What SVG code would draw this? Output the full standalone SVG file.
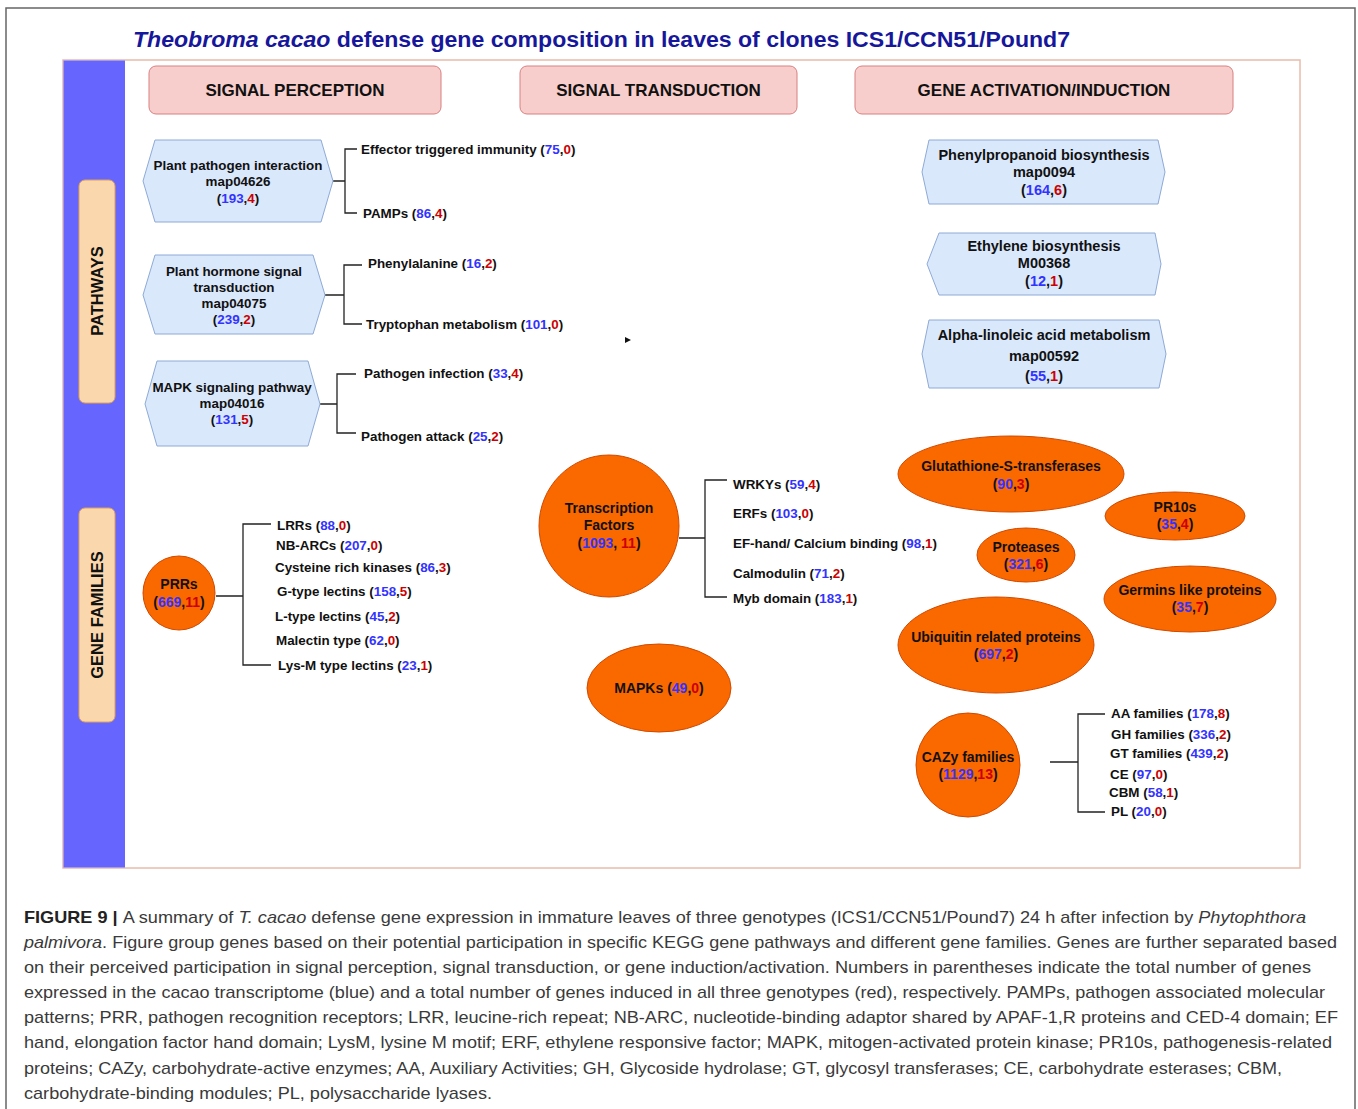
<svg xmlns="http://www.w3.org/2000/svg" width="1358" height="1109" viewBox="0 0 1358 1109">
<defs>
<style>
text{font-family:"Liberation Sans",Arial,sans-serif;}
.t{font-size:13.4px;font-weight:bold;fill:#111;}
.tm{font-size:13.4px;font-weight:bold;fill:#111;text-anchor:middle;}
.tr{font-size:14.5px;font-weight:bold;fill:#111;text-anchor:middle;}
.to{font-size:14px;font-weight:bold;fill:#111;text-anchor:middle;}
.hd{font-size:17px;font-weight:bold;fill:#111;text-anchor:middle;}
.side{font-size:16.5px;font-weight:bold;fill:#111;text-anchor:middle;}
.b{fill:#3333ff;}
.r{fill:#cc0000;}
.hdr{fill:#f8cecc;stroke:#d98080;stroke-width:1;}
.peach{fill:#fad7ac;stroke:#e0a050;stroke-width:1;}
.hex{fill:#dae8fc;stroke:#8eaad6;stroke-width:1;}
.ora{fill:#fa6800;stroke:#d04a00;stroke-width:1;}
.con{fill:none;stroke:#222;stroke-width:1.3;}
.cap{font-size:17px;fill:#3a3a3a;}
</style>
</defs>
<rect x="0" y="0" width="1358" height="1109" fill="#ffffff"/>
<path d="M6,1109 V8 H1355 V1109" fill="none" stroke="#666" stroke-width="1.5"/>
<text x="133" y="47" font-size="22" font-weight="bold" fill="#17179b" textLength="937" lengthAdjust="spacingAndGlyphs"><tspan font-style="italic">Theobroma cacao</tspan> defense gene composition in leaves of clones ICS1/CCN51/Pound7</text>
<rect x="63" y="60" width="1237" height="808" fill="#ffffff" stroke="#e8bcaa" stroke-width="1.5"/>
<rect x="63.5" y="60.5" width="61.5" height="807" fill="#6666ff"/>

<g id="hdr-perception"><rect class="hdr" x="149" y="66" width="292" height="48" rx="7"/><text class="hd" x="295" y="96">SIGNAL PERCEPTION</text></g>
<g id="hdr-transduction"><rect class="hdr" x="520" y="66" width="277" height="48" rx="7"/><text class="hd" x="658.5" y="96">SIGNAL TRANSDUCTION</text></g>
<g id="hdr-activation"><rect class="hdr" x="855" y="66" width="378" height="48" rx="7"/><text class="hd" x="1044" y="96">GENE ACTIVATION/INDUCTION</text></g>

<g id="lbl-pathways"><rect class="peach" x="79" y="180" width="36" height="223" rx="6"/><text class="side" transform="translate(97,291) rotate(-90)" y="6">PATHWAYS</text></g>
<g id="lbl-genefamilies"><rect class="peach" x="79" y="508" width="36" height="214" rx="6"/><text class="side" transform="translate(97,615) rotate(-90)" y="6">GENE FAMILIES</text></g>

<g id="connectors">
<path class="con" d="M333,181 H345 M357,149 H345 V213 H357"/>
<path class="con" d="M325,295 H344 M362,265 H344 V324 H362"/>
<path class="con" d="M320,404 H337 M356,374 H337 V433 H356"/>
<path class="con" d="M216,596 H243 M271,524 H243 V665 H271"/>
<path class="con" d="M679,538 H705 M727,480 H705 V597 H727"/>
<path class="con" d="M1050,762 H1078 M1105,714 H1078 V812 H1105"/>
<polygon points="625,337 631,340 625,343" fill="#111"/>
</g>

<g id="hex-ppi"><polygon class="hex" points="143,181 155,140 321,140 333,181 321,222 155,222"/>
<text class="tm" x="238" y="170">Plant pathogen interaction</text><text class="tm" x="238" y="186">map04626</text><text class="tm" x="238" y="203">(<tspan class="b">193</tspan>,<tspan class="r">4</tspan>)</text></g>
<g id="item-eti"><text class="t" x="361" y="154">Effector triggered immunity (<tspan class="b">75</tspan>,<tspan class="r">0</tspan>)</text></g>
<g id="item-pamps"><text class="t" x="363" y="218">PAMPs (<tspan class="b">86</tspan>,<tspan class="r">4</tspan>)</text></g>

<g id="hex-phst"><polygon class="hex" points="143,295 155,255 313,255 325,295 313,334 155,334"/>
<text class="tm" x="234" y="276">Plant hormone signal</text><text class="tm" x="234" y="292">transduction</text><text class="tm" x="234" y="308">map04075</text><text class="tm" x="234" y="324">(<tspan class="b">239</tspan>,<tspan class="r">2</tspan>)</text></g>
<g id="item-phe"><text class="t" x="368" y="268">Phenylalanine (<tspan class="b">16</tspan>,<tspan class="r">2</tspan>)</text></g>
<g id="item-trp"><text class="t" x="366" y="329">Tryptophan metabolism (<tspan class="b">101</tspan>,<tspan class="r">0</tspan>)</text></g>

<g id="hex-mapk"><polygon class="hex" points="145,404 157,361 308,361 320,404 308,446 157,446"/>
<text class="tm" x="232" y="392">MAPK signaling pathway</text><text class="tm" x="232" y="408">map04016</text><text class="tm" x="232" y="424">(<tspan class="b">131</tspan>,<tspan class="r">5</tspan>)</text></g>
<g id="item-pinf"><text class="t" x="364" y="378">Pathogen infection (<tspan class="b">33</tspan>,<tspan class="r">4</tspan>)</text></g>
<g id="item-patt"><text class="t" x="361" y="441">Pathogen attack (<tspan class="b">25</tspan>,<tspan class="r">2</tspan>)</text></g>

<g id="hex-phenylpropanoid"><polygon class="hex" points="922,172 929,140 1158,140 1165,172 1158,204 929,204"/>
<text class="tr" x="1044" y="160">Phenylpropanoid biosynthesis</text><text class="tr" x="1044" y="177">map0094</text><text class="tr" x="1044" y="195">(<tspan class="b">164</tspan>,<tspan class="r">6</tspan>)</text></g>
<g id="hex-ethylene"><polygon class="hex" points="927,264 939,233 1155,233 1161,264 1155,295 939,295"/>
<text class="tr" x="1044" y="251">Ethylene biosynthesis</text><text class="tr" x="1044" y="268">M00368</text><text class="tr" x="1044" y="286">(<tspan class="b">12</tspan>,<tspan class="r">1</tspan>)</text></g>
<g id="hex-alpha"><polygon class="hex" points="922,354 929,320 1159,320 1166,354 1159,388 929,388"/>
<text class="tr" x="1044" y="340">Alpha-linoleic acid metabolism</text><text class="tr" x="1044" y="361">map00592</text><text class="tr" x="1044" y="381">(<tspan class="b">55</tspan>,<tspan class="r">1</tspan>)</text></g>

<g id="node-prrs"><ellipse class="ora" cx="179" cy="593" rx="36" ry="37"/>
<text class="to" x="179" y="589">PRRs</text><text class="to" x="179" y="607">(<tspan class="b">669</tspan>,<tspan class="r">11</tspan>)</text></g>
<g id="items-prr">
<text class="t" x="277" y="530">LRRs (<tspan class="b">88</tspan>,<tspan class="r">0</tspan>)</text>
<text class="t" x="276" y="550">NB-ARCs (<tspan class="b">207</tspan>,<tspan class="r">0</tspan>)</text>
<text class="t" x="275" y="572">Cysteine rich kinases (<tspan class="b">86</tspan>,<tspan class="r">3</tspan>)</text>
<text class="t" x="277" y="596">G-type lectins (<tspan class="b">158</tspan>,<tspan class="r">5</tspan>)</text>
<text class="t" x="275" y="621">L-type lectins (<tspan class="b">45</tspan>,<tspan class="r">2</tspan>)</text>
<text class="t" x="276" y="645">Malectin type (<tspan class="b">62</tspan>,<tspan class="r">0</tspan>)</text>
<text class="t" x="278" y="670">Lys-M type lectins (<tspan class="b">23</tspan>,<tspan class="r">1</tspan>)</text>
</g>

<g id="node-tf"><ellipse class="ora" cx="609" cy="526" rx="70" ry="71"/>
<text class="to" x="609" y="513">Transcription</text><text class="to" x="609" y="530">Factors</text><text class="to" x="609" y="548">(<tspan class="b">1093</tspan>, <tspan class="r">11</tspan>)</text></g>
<g id="items-tf">
<text class="t" x="733" y="489">WRKYs (<tspan class="b">59</tspan>,<tspan class="r">4</tspan>)</text>
<text class="t" x="733" y="518">ERFs (<tspan class="b">103</tspan>,<tspan class="r">0</tspan>)</text>
<text class="t" x="733" y="548">EF-hand/ Calcium binding (<tspan class="b">98</tspan>,<tspan class="r">1</tspan>)</text>
<text class="t" x="733" y="578">Calmodulin (<tspan class="b">71</tspan>,<tspan class="r">2</tspan>)</text>
<text class="t" x="733" y="603">Myb domain (<tspan class="b">183</tspan>,<tspan class="r">1</tspan>)</text>
</g>

<g id="node-mapks"><ellipse class="ora" cx="659" cy="688" rx="72" ry="44"/>
<text class="to" x="659" y="693">MAPKs (<tspan class="b">49</tspan>,<tspan class="r">0</tspan>)</text></g>

<g id="node-gst"><ellipse class="ora" cx="1011" cy="474" rx="113" ry="38"/>
<text class="to" x="1011" y="471">Glutathione-S-transferases</text><text class="to" x="1011" y="489">(<tspan class="b">90</tspan>,<tspan class="r">3</tspan>)</text></g>
<g id="node-pr10"><ellipse class="ora" cx="1175" cy="516" rx="70" ry="24"/>
<text class="to" x="1175" y="512">PR10s</text><text class="to" x="1175" y="529">(<tspan class="b">35</tspan>,<tspan class="r">4</tspan>)</text></g>
<g id="node-proteases"><ellipse class="ora" cx="1026" cy="555" rx="49" ry="27"/>
<text class="to" x="1026" y="552">Proteases</text><text class="to" x="1026" y="569">(<tspan class="b">321</tspan>,<tspan class="r">6</tspan>)</text></g>
<g id="node-germins"><ellipse class="ora" cx="1190" cy="599" rx="86" ry="33"/>
<text class="to" x="1190" y="595">Germins like proteins</text><text class="to" x="1190" y="612">(<tspan class="b">35</tspan>,<tspan class="r">7</tspan>)</text></g>
<g id="node-ubiquitin"><ellipse class="ora" cx="996" cy="645" rx="98" ry="48"/>
<text class="to" x="996" y="642">Ubiquitin related proteins</text><text class="to" x="996" y="659">(<tspan class="b">697</tspan>,<tspan class="r">2</tspan>)</text></g>
<g id="node-cazy"><ellipse class="ora" cx="968" cy="765" rx="52" ry="52"/>
<text class="to" x="968" y="762">CAZy families</text><text class="to" x="968" y="779">(<tspan class="b">1129</tspan>,<tspan class="r">13</tspan>)</text></g>
<g id="items-cazy">
<text class="t" x="1111" y="718">AA families (<tspan class="b">178</tspan>,<tspan class="r">8</tspan>)</text>
<text class="t" x="1111" y="739">GH families (<tspan class="b">336</tspan>,<tspan class="r">2</tspan>)</text>
<text class="t" x="1110" y="758">GT families (<tspan class="b">439</tspan>,<tspan class="r">2</tspan>)</text>
<text class="t" x="1110" y="779">CE (<tspan class="b">97</tspan>,<tspan class="r">0</tspan>)</text>
<text class="t" x="1109" y="797">CBM (<tspan class="b">58</tspan>,<tspan class="r">1</tspan>)</text>
<text class="t" x="1111" y="816">PL (<tspan class="b">20</tspan>,<tspan class="r">0</tspan>)</text>
</g>

<g id="caption">
<text class="cap" x="24" y="923" textLength="1282" lengthAdjust="spacingAndGlyphs"><tspan font-weight="bold" fill="#222">FIGURE 9 | </tspan>A summary of <tspan font-style="italic">T. cacao</tspan> defense gene expression in immature leaves of three genotypes (ICS1/CCN51/Pound7) 24 h after infection by <tspan font-style="italic">Phytophthora</tspan></text>
<text class="cap" x="24" y="948" textLength="1313" lengthAdjust="spacingAndGlyphs"><tspan font-style="italic">palmivora</tspan>. Figure group genes based on their potential participation in specific KEGG gene pathways and different gene families. Genes are further separated based</text>
<text class="cap" x="24" y="973" textLength="1287" lengthAdjust="spacingAndGlyphs">on their perceived participation in signal perception, signal transduction, or gene induction/activation. Numbers in parentheses indicate the total number of genes</text>
<text class="cap" x="24" y="998" textLength="1301" lengthAdjust="spacingAndGlyphs">expressed in the cacao transcriptome (blue) and a total number of genes induced in all three genotypes (red), respectively. PAMPs, pathogen associated molecular</text>
<text class="cap" x="24" y="1023" textLength="1314" lengthAdjust="spacingAndGlyphs">patterns; PRR, pathogen recognition receptors; LRR, leucine-rich repeat; NB-ARC, nucleotide-binding adaptor shared by APAF-1,R proteins and CED-4 domain; EF</text>
<text class="cap" x="24" y="1048" textLength="1308" lengthAdjust="spacingAndGlyphs">hand, elongation factor hand domain; LysM, lysine M motif; ERF, ethylene responsive factor; MAPK, mitogen-activated protein kinase; PR10s, pathogenesis-related</text>
<text class="cap" x="24" y="1074" textLength="1258" lengthAdjust="spacingAndGlyphs">proteins; CAZy, carbohydrate-active enzymes; AA, Auxiliary Activities; GH, Glycoside hydrolase; GT, glycosyl transferases; CE, carbohydrate esterases; CBM,</text>
<text class="cap" x="24" y="1099" textLength="468" lengthAdjust="spacingAndGlyphs">carbohydrate-binding modules; PL, polysaccharide lyases.</text>
</g>
</svg>
